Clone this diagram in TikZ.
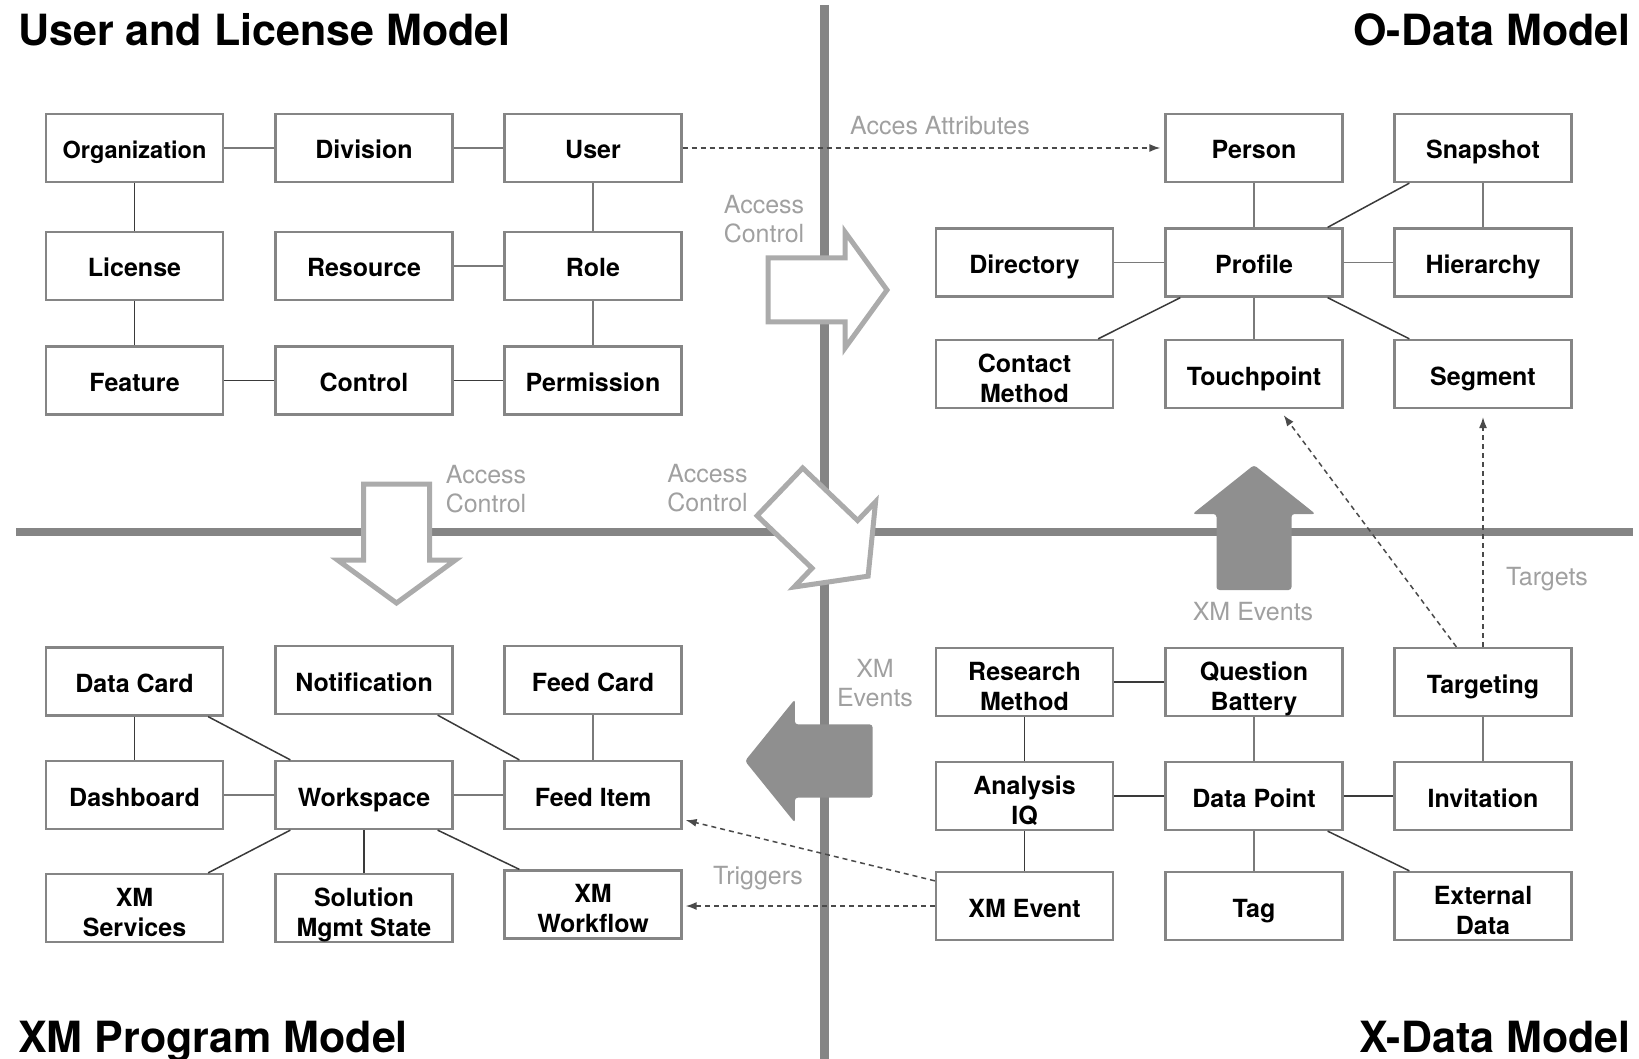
\documentclass[tikz,border=0pt]{standalone}
\usepackage{fontspec}
\setmainfont{TeX Gyre Heros}
\usetikzlibrary{arrows.meta,calc}
\definecolor{boxgray}{HTML}{858585}
\definecolor{darkln}{HTML}{3A3A3A}
\definecolor{grayln}{HTML}{7A7A7A}
\definecolor{dashgray}{HTML}{4A4A4A}
\definecolor{lblgray}{HTML}{A0A0A0}
\definecolor{arrgray}{HTML}{ABABAB}
\definecolor{fillgray}{HTML}{8F8F8F}
\definecolor{divgray}{HTML}{858585}
\begin{document}
\begin{tikzpicture}[x=1pt,y=-1pt,
  entbase/.style={draw=boxgray, line width=2.3pt, fill=white, minimum width=177pt, minimum height=68pt, inner sep=0pt, align=center, font=\fontsize{25}{30}\selectfont\bfseries},
  ent/.style={entbase, text height=22pt, text depth=0pt},
  ent2/.style={entbase, text height=56pt, text depth=0pt},
  titletext/.style={inner sep=0pt, font=\fontsize{43}{50}\selectfont\bfseries},
  lbl/.style={inner sep=0pt, align=center, text=lblgray, font=\fontsize{25}{29}\selectfont},
  lnk/.style={draw=darkln, line width=1.5pt},
  lnkg/.style={draw=grayln, line width=1.3pt},
  dsh/.style={draw=dashgray, line width=1.5pt, dash pattern=on 5pt off 4pt, -{Latex[length=11pt,width=8pt]}},
  harrow/.style={draw=arrgray, fill=white, line width=5pt, line join=miter},
  farrow/.style={fill=fillgray, rounded corners=3pt},
  divider/.style={draw=divgray, line width=8.5pt}
]
\useasboundingbox (0,0) rectangle (1639,1059);

% dividers
\draw[divider] (824.5,5) -- (824.5,1059);
\draw[divider] (16,532) -- (1633,532);

% hollow arrows
\begin{scope}[shift={(827.5,290)}]
\draw[harrow] (-59.5,-32) -- (17.5,-32) -- (17.5,-58) -- (59.5,0) -- (17.5,58) -- (17.5,32) -- (-59.5,32) -- cycle;
\end{scope}
\begin{scope}[shift={(396.5,543.5)}, rotate=-90]
\draw[harrow] (-59.5,-33) -- (16.5,-33) -- (16.5,-59) -- (59.5,0) -- (16.5,59) -- (16.5,33) -- (-59.5,33) -- cycle;
\end{scope}
\begin{scope}[shift={(824,534)}, rotate=-43.7]
\draw[harrow] (-61,-33) -- (15,-33) -- (15,-59) -- (61,0) -- (15,59) -- (15,33) -- (-61,33) -- cycle;
\end{scope}

% filled arrows
\begin{scope}[shift={(1254,527.5)}, rotate=90]
\fill[farrow] (-62.5,-37.5) -- (13.5,-37.5) -- (13.5,-61.5) -- (62.5,0) -- (13.5,61.5) -- (13.5,37.5) -- (-62.5,37.5) -- cycle;
\end{scope}
\begin{scope}[shift={(808.8,761)}, rotate=180]
\fill[farrow] (-63.8,-36.6) -- (13.9,-36.6) -- (13.9,-61.7) -- (63.8,0) -- (13.9,61.7) -- (13.9,36.6) -- (-63.8,36.6) -- cycle;
\end{scope}

% User and License Model
\node[ent] (org) at (134.5,148) {\fontsize{23.5}{28}\selectfont Organization};
\node[ent] (div) at (364,148) {Division};
\node[ent] (user) at (593,148) {User};
\node[ent] (lic) at (134.5,266) {License};
\node[ent] (res) at (364,266) {Resource};
\node[ent] (role) at (593,266) {Role};
\node[ent] (feat) at (134.5,380.5) {Feature};
\node[ent] (ctrl) at (364,380.5) {Control};
\node[ent] (perm) at (593,380.5) {Permission};

% O-Data Model
\node[ent] (person) at (1254,148) {Person};
\node[ent] (snap) at (1483,148) {Snapshot};
\node[ent] (dir) at (1024.5,262.5) {Directory};
\node[ent] (prof) at (1254,262.5) {Profile};
\node[ent] (hier) at (1483,262.5) {Hierarchy};
\node[ent2] (cm) at (1024.5,374) {Contact\\Method};
\node[ent] (touch) at (1254,374) {Touchpoint};
\node[ent] (seg) at (1483,374) {Segment};

% XM Program Model
\node[ent] (dcard) at (134.5,681.5) {Data Card};
\node[ent] (notif) at (364,680) {Notification};
\node[ent] (fcard) at (593,680) {Feed Card};
\node[ent] (dashb) at (134.5,795) {Dashboard};
\node[ent] (ws) at (364,795) {Workspace};
\node[ent] (fitem) at (593,795) {Feed Item};
\node[ent2] (xmsv) at (134.5,908) {XM\\Services};
\node[ent2] (sms) at (364,908) {Solution\\Mgmt State};
\node[ent2] (xmwf) at (593,904.5) {XM\\Workflow};

% X-Data Model
\node[ent2] (rm) at (1024.5,682) {Research\\Method};
\node[ent2] (qb) at (1254,682) {Question\\Battery};
\node[ent] (targ) at (1483,682) {Targeting};
\node[ent2] (aiq) at (1024.5,796) {Analysis\\IQ};
\node[ent] (dp) at (1254,796) {Data Point};
\node[ent] (inv) at (1483,796) {Invitation};
\node[ent] (xmev) at (1024.5,906) {XM Event};
\node[ent] (tag) at (1254,906) {Tag};
\node[ent2] (ext) at (1483,906) {External\\Data};

% connectors: User and License Model
\draw[lnkg] (org) -- (div);
\draw[lnkg] (div) -- (user);
\draw[lnk] (org) -- (lic);
\draw[lnk] (lic) -- (feat);
\draw[lnkg] (user) -- (role);
\draw[lnkg] (res) -- (role);
\draw[lnkg] (role) -- (perm);
\draw[lnk] (feat) -- (ctrl);
\draw[lnk] (ctrl) -- (perm);

% connectors: O-Data Model
\draw[lnkg] (person) -- (prof);
\draw[lnkg] (snap) -- (hier);
\draw[lnkg] (dir) -- (prof);
\draw[lnkg] (prof) -- (hier);
\draw[lnkg] (prof) -- (touch);
\draw[lnk] ($(snap.south west)+(16,0)$) -- ($(prof.north east)+(-16,0)$);
\draw[lnk] ($(prof.south west)+(16,0)$) -- ($(cm.north east)+(-16,0)$);
\draw[lnk] ($(prof.south east)+(-16,0)$) -- ($(seg.north west)+(16,0)$);

% connectors: XM Program Model
\draw[lnk] (dcard) -- (dashb);
\draw[lnkg] (dashb) -- (ws);
\draw[lnkg] (ws) -- (fitem);
\draw[lnkg] (fcard) -- (fitem);
\draw[lnk] (ws) -- (sms);
\draw[lnk] ($(dcard.south east)+(-16,0)$) -- ($(ws.north west)+(16,0)$);
\draw[lnk] ($(notif.south east)+(-16,0)$) -- ($(fitem.north west)+(16,0)$);
\draw[lnk] ($(ws.south west)+(16,0)$) -- ($(xmsv.north east)+(-16,0)$);
\draw[lnk] ($(ws.south east)+(-16,0)$) -- ($(xmwf.north west)+(16,0)$);

% connectors: X-Data Model
\draw[lnk] (rm) -- (qb);
\draw[lnk] (rm) -- (aiq);
\draw[lnkg] (qb) -- (dp);
\draw[lnkg] (targ) -- (inv);
\draw[lnk] (aiq) -- (dp);
\draw[lnk] (dp) -- (inv);
\draw[lnk] (aiq) -- (xmev);
\draw[lnkg] (dp) -- (tag);
\draw[lnk] ($(dp.south east)+(-16,0)$) -- ($(ext.north west)+(16,0)$);

% dashed arrows
\draw[dsh] (user.east) -- ($(person.west)+(-4,0)$);
\draw[dsh] ($(targ.north west)+(63,0)$) -- ($(touch.south east)+(-60,6)$);
\draw[dsh, line width=1.2pt] (targ.north) -- ($(seg.south)+(0,8)$);
\draw[dsh] ($(xmev.north west)+(0,10)$) -- ($(fitem.south east)+(3,-10)$);
\draw[dsh] (xmev.west) -- ($(xmwf.east |- xmev.west)+(3,0)$);

% labels
\node[lbl] (lacc1) at (764,219.5) {Access\\Control};
\node[lbl] (lacc2) at (486,489) {Access\\Control};
\node[lbl] (lacc3) at (707.5,488.5) {Access\\Control};
\node[lbl] (lxme1) at (875,683) {XM\\Events};
\node[lbl, anchor=base] (lxme2) at (1253,620.7) {XM Events};
\node[lbl, anchor=base] (ltarg) at (1547,585) {Targets};
\node[lbl, anchor=base] (ltrig) at (758,884) {Triggers};
\node[lbl, anchor=base] (lattr) at (940,135) {Acces Attributes};

% titles
\node[titletext, anchor=base west] (t1) at (18,45.6) {User and License Model};
\node[titletext, anchor=base east] (t2) at (1631,45.6) {O-Data Model};
\node[titletext, anchor=base west] (t3) at (18,1052) {XM Program Model};
\node[titletext, anchor=base east] (t4) at (1631,1052) {X-Data Model};
\end{tikzpicture}
\end{document}
